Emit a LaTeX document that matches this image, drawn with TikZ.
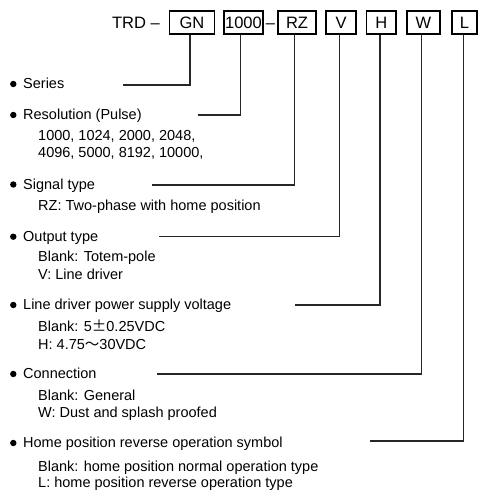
\documentclass[tikz,border=0pt]{standalone}
\usepackage{fontspec}
\setmainfont{Liberation Sans}
\newfontfamily\cjkfont{Noto Sans CJK JP}
\begin{document}
\begin{tikzpicture}[x=1pt,y=-1pt,
  every node/.style={font=\fontsize{14.5}{17}\selectfont, inner sep=0pt, text=black},
  topfont/.style={font=\fontsize{16.5}{19}\selectfont},
  codebox/.style={draw=black, line width=1.6pt, minimum height=23pt, anchor=center, topfont},
  head/.style={anchor=base west},
  sub/.style={anchor=base west},
  bullet/.style={fill=black},
  conn/.style={draw=black!85, line width=1.2pt}]
\useasboundingbox (0,0) rectangle (479,493);
% top code
\node[anchor=base east, topfont] (trd) at (160,28.5) {TRD \textendash};
\node[codebox, minimum width=45pt] (gn) at (192,22.5) {GN};
\node[codebox, minimum width=38.5pt] (k1000) at (243.5,22.5) {1000};
\node[anchor=base, topfont] (dash) at (270.5,28.5) {\textendash};
\node[codebox, minimum width=38pt] (rz) at (297,22.5) {RZ};
\node[codebox, minimum width=30pt] (v) at (341,22.5) {V};
\node[codebox, minimum width=29.5pt] (h) at (381.3,22.5) {H};
\node[codebox, minimum width=33pt] (w) at (423.3,22.5) {W};
\node[codebox, minimum width=24.5pt] (l) at (464.5,22.5) {L};
% bullets
\foreach \y in {84,115,184.5,236.7,305,374,443} \fill[bullet] (13.3,\y) circle (3.2pt);
% headings (baseline = centre + 4.5)
\node[head] (series) at (23,88.5) {Series};
\node[head] (res) at (23,119.5) {Resolution (Pulse)};
\node[sub] (res1) at (38,140.5) {1000, 1024, 2000, 2048,};
\node[sub] (res2) at (38,157.5) {4096, 5000, 8192, 10000,};
\node[head] (sig) at (23,189) {Signal type};
\node[sub] (sig1) at (38,210) {RZ: Two-phase with home position};
\node[head] (out) at (23,241.2) {Output type};
\node[sub] (out1) at (38,261.8) {Blank: Totem-pole};
\node[sub] (out2) at (38,279.5) {V: Line driver};
\node[head] (ldv) at (23,309.5) {Line driver power supply voltage};
\node[sub] (ldv1) at (38,331) {Blank: 5{\cjkfont ±}0.25VDC};
\node[sub] (ldv2) at (38,349) {H: 4.75{\cjkfont ～}30VDC};
\node[head] (con) at (23,378.5) {Connection};
\node[sub] (con1) at (38,400.5) {Blank: General};
\node[sub] (con2) at (38,417.5) {W: Dust and splash proofed};
\node[head] (home) at (23,447.5) {Home position reverse operation symbol};
\node[sub] (home1) at (38,471) {Blank: home position normal operation type};
\node[sub] (home2) at (38,487.5) {L: home position reverse operation type};
% connector ends
\coordinate (e1) at (123,85);
\coordinate (e2) at (198,115);
\coordinate (e3) at (152,185);
\coordinate (e4) at (159,236.7);
\coordinate (e5) at (295,305);
\coordinate (e6) at (157,374);
\coordinate (e7) at (370,441);
\draw[conn] ([xshift=-2pt]gn.south) |- (e1);
\draw[conn] ([xshift=-2.8pt]k1000.south) |- (e2);
\draw[conn] ([xshift=-2.7pt]rz.south) |- (e3);
\draw[conn] ([xshift=-1.7pt]v.south) |- (e4);
\draw[conn] ([xshift=-1.3pt]h.south) |- (e5);
\draw[conn] ([xshift=-1.6pt]w.south) |- (e6);
\draw[conn] ([xshift=-1.2pt]l.south) |- (e7);
\end{tikzpicture}
\end{document}
